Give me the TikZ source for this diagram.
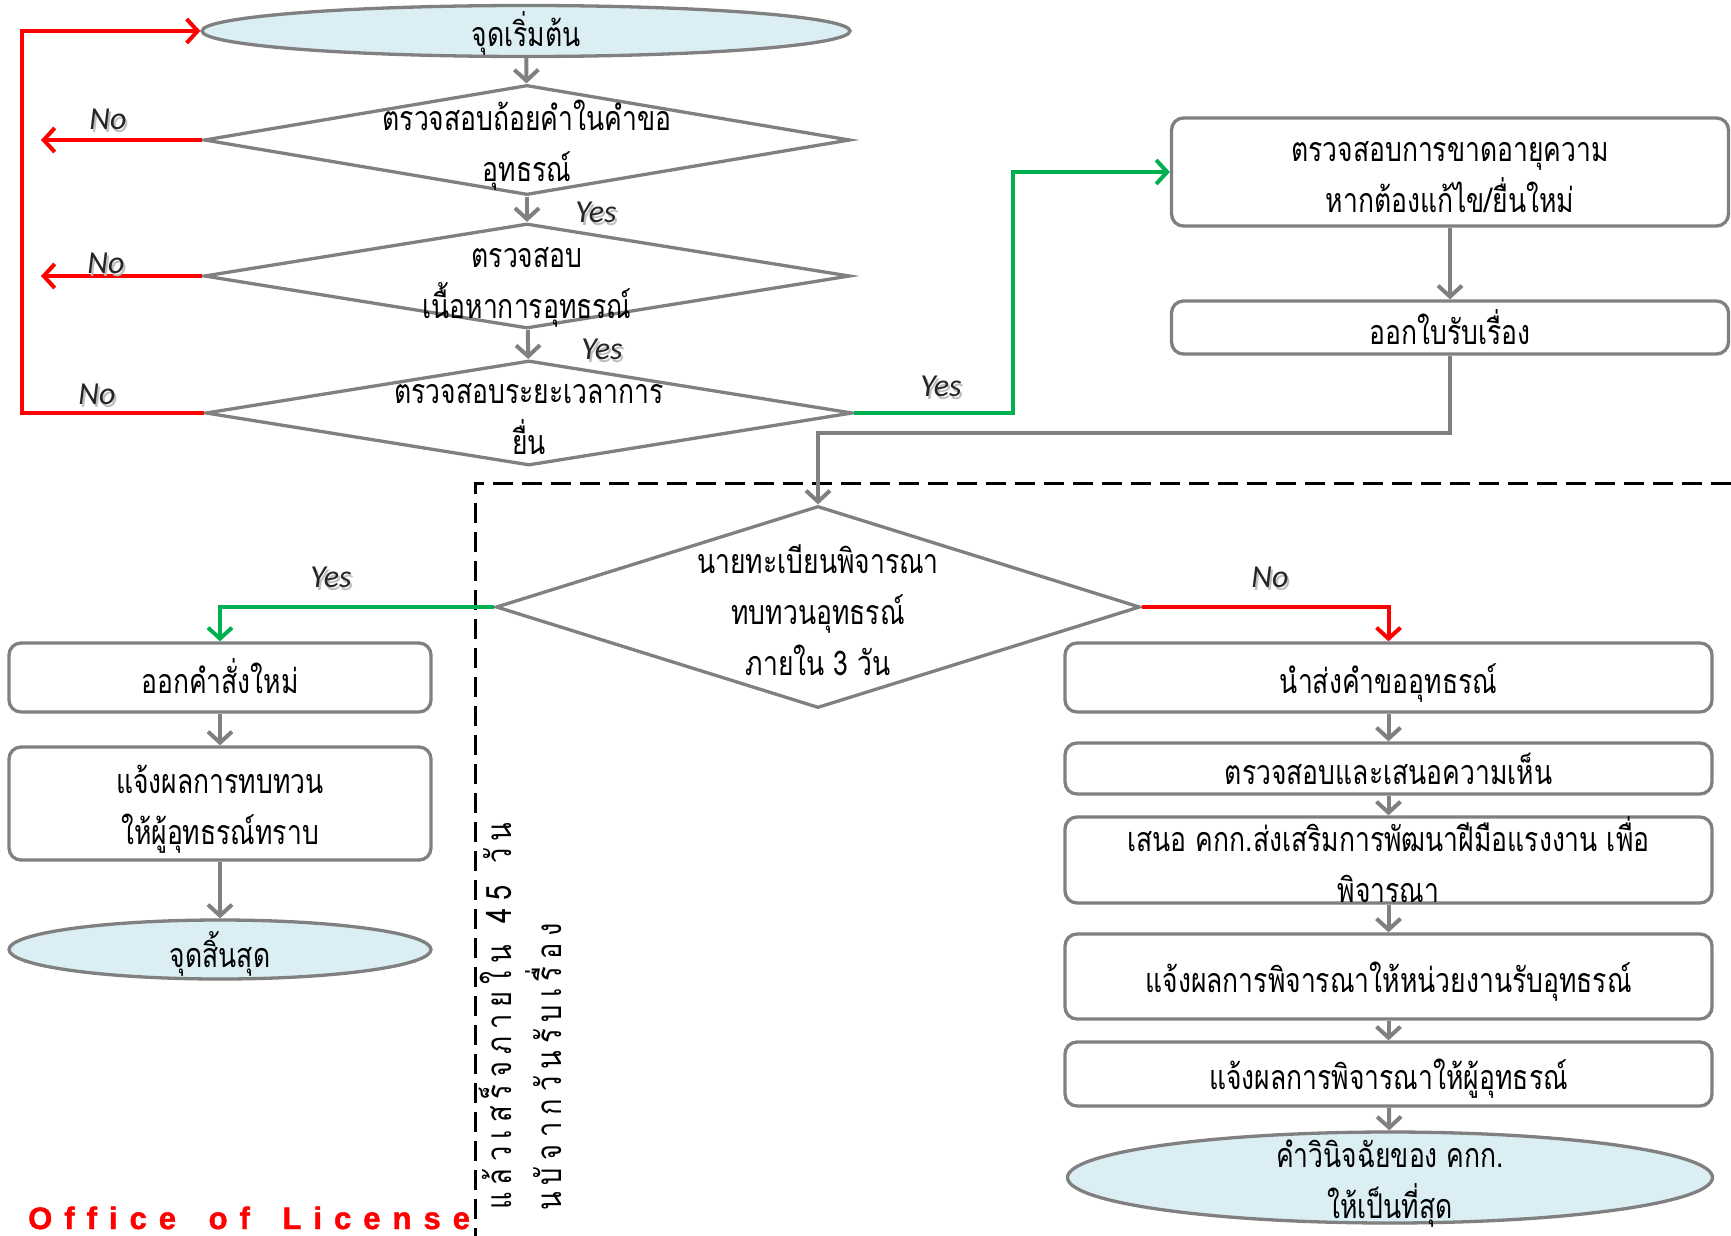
\documentclass[tikz,border=0pt]{standalone}
\usepackage{fontspec}
\usetikzlibrary{shapes.geometric,arrows.meta}
\newfontfamily\thai[Script=Thai,FakeStretch=0.78]{Loma}
\newfontfamily\ynfont{Carlito}
\newfontfamily\offfont[FakeBold=1.5]{Liberation Sans Bold}
\definecolor{lnGray}{RGB}{128,128,128}
\definecolor{okGreen}{RGB}{0,176,80}
\definecolor{noRed}{RGB}{255,0,0}
\definecolor{ellFill}{RGB}{219,238,244}
\newcommand\vsp{\kern7pt}
\newcommand\osp{\kern12pt}
\begin{document}
\begin{tikzpicture}[x=1pt,y=-1pt,
  shp/.style={draw=lnGray,line width=3.3pt,inner sep=0pt},
  dia/.style={shp,diamond},
  ell/.style={shp,ellipse,fill=ellFill},
  box/.style={shp,rectangle,rounded corners=12pt},
  txt/.style={font=\thai\fontsize{34}{51}\selectfont,align=center,inner sep=0pt},
  vtxt/.style={font=\thai\fontsize{35}{35}\selectfont,inner sep=0pt,rotate=90,anchor=base west},
  tipB/.style={-{Straight Barb[length=11pt,width=24pt]}},
  gcon/.style={draw=lnGray,line width=4pt,tipB},
  rcon/.style={draw=noRed,line width=4pt,tipB},
  okcon/.style={draw=okGreen,line width=4pt,tipB},
  yn/.style={font=\ynfont\itshape\fontsize{32}{32}\selectfont,inner sep=0pt,text=black!85},
  ynsh/.style={font=\ynfont\itshape\fontsize{32}{32}\selectfont,inner sep=0pt,text=black!25},
  dashln/.style={draw=black,line width=3pt,dash pattern=on 20pt off 9pt}
]
\useasboundingbox (0,0) rectangle (1731,1236);

% dashed time frame
\coordinate (fTL) at (475,483);
\coordinate (fTR) at (1731,483);
\coordinate (fBL) at (475,1236);
\draw[dashln] (fTR) -- (fTL) -- (fBL);

% shapes
\node[ell,minimum width=648pt,minimum height=51pt] (s) at (526,31) {};
\node[dia,minimum width=646pt,minimum height=110pt] (d1) at (527,140) {};
\node[dia,minimum width=646pt,minimum height=105pt] (d2) at (527,276) {};
\node[dia,minimum width=647pt,minimum height=105pt] (d3) at (529,413) {};
\node[box,minimum width=557pt,minimum height=108pt] (bA) at (1450,172) {};
\node[box,minimum width=557pt,minimum height=53pt] (bB) at (1450,327.5) {};
\node[dia,minimum width=644pt,minimum height=202pt] (d4) at (818,607) {};
\node[box,minimum width=422pt,minimum height=69pt] (L1) at (220,677.5) {};
\node[box,minimum width=422pt,minimum height=113pt] (L2) at (220,803.5) {};
\node[ell,minimum width=422pt,minimum height=59pt] (Lend) at (220,949.5) {};
\node[box,minimum width=647pt,minimum height=69pt] (R1) at (1388.5,677.5) {};
\node[box,minimum width=647pt,minimum height=51pt] (R2) at (1388.5,768.5) {};
\node[box,minimum width=647pt,minimum height=86pt] (R3) at (1388.5,860) {};
\node[box,minimum width=647pt,minimum height=85pt] (R4) at (1388.5,976.5) {};
\node[box,minimum width=647pt,minimum height=64pt] (R5) at (1388.5,1074) {};
\node[ell,minimum width=645pt,minimum height=91pt] (Rend) at (1390,1177.5) {};

% texts
\node[txt] (sT) at (526,33) {จุดเริ่มต้น};
\node[txt] (d1T) at (527,145) {ตรวจสอบถ้อยคำในคำขอ\\อุทธรณ์};
\node[txt] (d2T) at (527,287) {ตรวจสอบ\\เนื้อหาการอุทธรณ์};
\node[txt] (d3T) at (529,419) {ตรวจสอบระยะเวลาการ\\ยื่น};
\node[txt] (bAT) at (1450,177) {ตรวจสอบการขาดอายุความ\\หากต้องแก้ไข/ยื่นใหม่};
\node[txt] (bBT) at (1450,327) {ออกใบรับเรื่อง};
\node[txt] (d4T) at (818,610) {นายทะเบียนพิจารณา\\ทบทวนอุทธรณ์\\ภายใน 3 วัน};
\node[txt] (L1T) at (220,676) {ออกคำสั่งใหม่};
\node[txt] (L2T) at (220,809) {แจ้งผลการทบทวน\\ให้ผู้อุทธรณ์ทราบ};
\node[txt] (LendT) at (220,954) {จุดสิ้นสุด};
\node[txt] (R1T) at (1388.5,683) {นำส่งคำขออุทธรณ์};
\node[txt] (R2T) at (1388.5,769) {ตรวจสอบและเสนอความเห็น};
\node[txt] (R3T) at (1388.5,860) {เสนอ คกก.ส่งเสริมการพัฒนาฝีมือแรงงาน เพื่อ\\พิจารณา};
\node[txt] (R4T) at (1388.5,982) {แจ้งผลการพิจารณาให้หน่วยงานรับอุทธรณ์};
\node[txt] (R5T) at (1388.5,1079) {แจ้งผลการพิจารณาให้ผู้อุทธรณ์};
\node[txt] (RendT) at (1390,1184) {คำวินิจฉัยของ คกก.\\ให้เป็นที่สุด};

% vertical time-frame text
\node[vtxt] (v1) at (511,1210) {แ\vsp ล้\vsp ว\vsp เ\vsp ส\vsp ร็\vsp จ\vsp ภ\vsp า\vsp ย\vsp ใ\vsp น\vsp\kern15pt 4\vsp 5\vsp\kern15pt วั\vsp น};
\node[vtxt] (v2) at (561,1211) {น\vsp บั\vsp จ\vsp า\vsp ก\vsp วั\vsp น\vsp รั\vsp บ\vsp เ\vsp รื่\vsp อ\vsp ง};

% office text
\node[font=\offfont\fontsize{31}{31}\selectfont,text=noRed,inner sep=0pt,anchor=base west] (off) at (28,1229)
  {O\osp f\osp f\osp i\osp c\osp e\osp\ \osp o\osp f\osp\ \osp L\osp i\osp c\osp e\osp n\osp s\osp e};

% connectors
\coordinate (n1) at (41,140);
\coordinate (n2) at (41,276);
\coordinate (loopX) at (22,413);
\coordinate (gX) at (1013,413);
\draw[gcon] (s) -- (d1);
\draw[gcon] (d1) -- (d2);
\draw[gcon] (d2) -- (d3);
\draw[rcon] (d1.west) -- (n1);
\draw[rcon] (d2.west) -- (n2);
\draw[rcon] (d3.west) -- (loopX) |- (s.west);
\draw[okcon] (d3.east) -- (gX) |- (bA.west);
\draw[gcon] (bA) -- (bB);
\draw[gcon] (bB.south) -- ++(0,77) -| (d4.north);
\draw[okcon] (d4.west) -| (L1.north);
\draw[rcon] (d4.east) -| (R1.north);
\draw[gcon] (L1) -- (L2);
\draw[gcon] (L2) -- (Lend);
\draw[gcon] (R1) -- (R2);
\draw[gcon] (R2) -- (R3);
\draw[gcon] (R3) -- (R4);
\draw[gcon] (R4) -- (R5);
\draw[gcon] (R5) -- (Rend);

% yes / no labels
\node[ynsh] at (110,122) {No};
\node[yn] (no1) at (108,119) {No};
\node[ynsh] at (108,266) {No};
\node[yn] (no2) at (106,263) {No};
\node[ynsh] at (99,397) {No};
\node[yn] (no3) at (97,394) {No};
\node[ynsh] at (598,215) {Yes};
\node[yn] (yes1) at (596,212) {Yes};
\node[ynsh] at (604,352) {Yes};
\node[yn] (yes2) at (602,349) {Yes};
\node[ynsh] at (943,389) {Yes};
\node[yn] (yes3) at (941,386) {Yes};
\node[ynsh] at (333,580) {Yes};
\node[yn] (yes4) at (331,577) {Yes};
\node[ynsh] at (1272,580) {No};
\node[yn] (no4) at (1270,577) {No};
\end{tikzpicture}
\end{document}
